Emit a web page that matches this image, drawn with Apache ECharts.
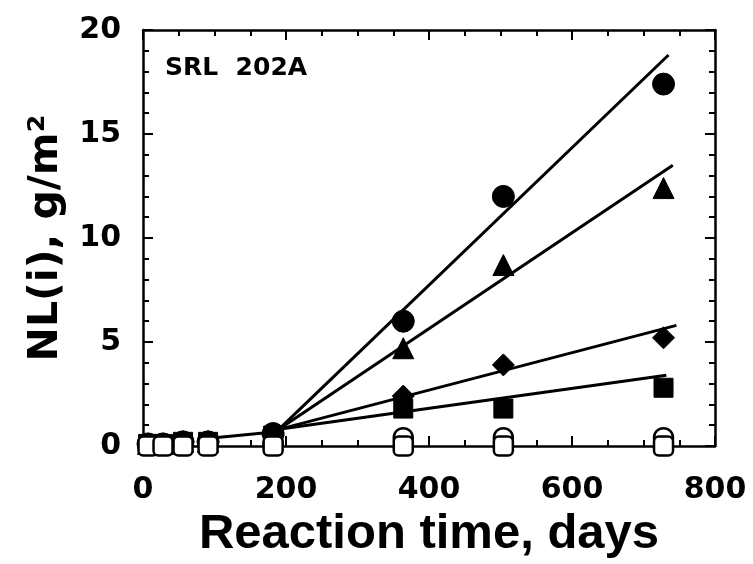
<!DOCTYPE html>
<html>
<head>
<meta charset="utf-8">
<script src="https://cdn.jsdelivr.net/npm/echarts@6/dist/echarts.min.js"></script>
<style>html,body{margin:0;padding:0;background:#fff;}#c{width:753px;height:564px;}</style>
</head>
<body>
<div id="c"></div>
<script>
// Data
var days = [7, 28, 56, 91, 182, 364, 504, 728];
var filledCircle = [0.1, 0.1, 0.2, 0.2, 0.6, 6.0, 12.0, 17.4];
var filledTriangle = [0.1, 0.1, 0.2, 0.2, 0.5, 4.7, 8.7, 12.4];
var filledDiamond = [0.1, 0.1, 0.2, 0.2, 0.5, 2.4, 3.9, 5.2];
var filledSquare = [0.1, 0.1, 0.2, 0.2, 0.5, 1.8, 1.8, 2.8];
var openCircle = [0.1, 0.1, 0.1, 0.1, 0.1, 0.4, 0.4, 0.4];
var openSquare = [0, 0, 0, 0, 0, 0, 0, 0];
var fitCircleX = [190, 735], fitCircleY = [0.8, 18.8];
var fitTriangleX = [190, 741], fitTriangleY = [0.8, 13.5];
var fitDiamondX = [190, 746], fitDiamondY = [0.8, 5.8];
var fitSquareX = [190, 732], fitSquareY = [0.8, 3.4];
var earlyX = [100, 190], earlyY = [0.4, 0.7];
var xTicks = [0, 200, 400, 600, 800];
var yTicks = [0, 5, 10, 15, 20];
var panelLabel = 'SRL  202A';

function pairs(xs, ys) { return xs.map(function (x, i) { return [x, ys[i]]; }); }

var chart = echarts.init(document.getElementById('c'), null, {renderer: 'canvas'});
var axisLine = {show: true, onZero: false, lineStyle: {color: '#000', width: 2.5}};
var tickFont = {fontFamily: 'DejaVu Sans', fontWeight: 'bold', fontSize: 30, color: '#000'};
var majorTick = {show: true, inside: true, length: 10, lineStyle: {color: '#000', width: 2}};
function minor(n) { return {show: true, splitNumber: n, length: 6, lineStyle: {color: '#000', width: 2}}; }

function fit(xs, ys) {
  return {type: 'line', data: pairs(xs, ys), symbol: 'none', z: 2,
    lineStyle: {color: '#000', width: 3}, silent: true};
}
function marks(vals, sym, size, open) {
  return {type: 'scatter', data: pairs(days, vals), symbol: sym, symbolSize: size, z: open ? 5 : 4,
    itemStyle: open ? {color: '#fff', borderColor: '#000', borderWidth: 2.5, opacity: 1}
                    : {color: '#000', borderColor: '#000', borderWidth: 1, opacity: 1}};
}

chart.setOption({
  animation: false,
  backgroundColor: '#fff',
  grid: {left: 143, right: 38, top: 30, bottom: 118, containLabel: false, outerBoundsMode: 'none'},
  xAxis: [{
    type: 'value', min: 0, max: 800, interval: 200, position: 'bottom',
    axisLine: axisLine, axisTick: majorTick, minorTick: minor(4),
    splitLine: {show: false}, minorSplitLine: {show: false},
    axisLabel: Object.assign({margin: 29, formatter: function (v) { return xTicks.indexOf(v) >= 0 ? String(v) : ''; }}, tickFont),
    name: 'Reaction time, days', nameLocation: 'middle', nameGap: 62,
    nameTextStyle: {fontFamily: 'Liberation Sans', fontWeight: 'bold', fontSize: 49, color: '#000'}
  }, {
    type: 'value', min: 0, max: 800, interval: 200, position: 'top',
    axisLine: axisLine, axisTick: majorTick, minorTick: minor(4),
    splitLine: {show: false}, axisLabel: {show: false}
  }],
  yAxis: [{
    type: 'value', min: 0, max: 20, interval: 5, position: 'left',
    axisLine: axisLine, axisTick: majorTick, minorTick: minor(5),
    splitLine: {show: false}, minorSplitLine: {show: false},
    axisLabel: Object.assign({margin: 22, formatter: function (v) { return yTicks.indexOf(v) >= 0 ? String(v) : ''; }}, tickFont),
    name: 'NL(i), g/m²', nameLocation: 'middle', nameGap: 76, nameRotate: 90,
    nameTextStyle: {fontFamily: 'DejaVu Sans', fontWeight: 'bold', fontSize: 41, color: '#000'}
  }, {
    type: 'value', min: 0, max: 20, interval: 5, position: 'right',
    axisLine: axisLine, axisTick: majorTick, minorTick: minor(5),
    splitLine: {show: false}, axisLabel: {show: false}
  }],
  graphic: [{
    type: 'text', left: 165, top: 56,
    style: {text: panelLabel, font: 'bold 25px "DejaVu Sans"', fill: '#000'}
  }],
  series: [
    fit(fitCircleX, fitCircleY),
    fit(fitTriangleX, fitTriangleY),
    fit(fitDiamondX, fitDiamondY),
    fit(fitSquareX, fitSquareY),
    fit(earlyX, earlyY),
    marks(filledCircle, 'circle', 22, false),
    marks(filledTriangle, 'triangle', 21, false),
    marks(filledDiamond, 'diamond', 22, false),
    marks(filledSquare, 'rect', 19, false),
    marks(openCircle, 'circle', 19, true),
    marks(openSquare, 'roundRect', 19, true),
    {type: 'scatter', xAxisIndex: 1, yAxisIndex: 1, data: [], silent: true}
  ]
});
</script>
</body>
</html>
